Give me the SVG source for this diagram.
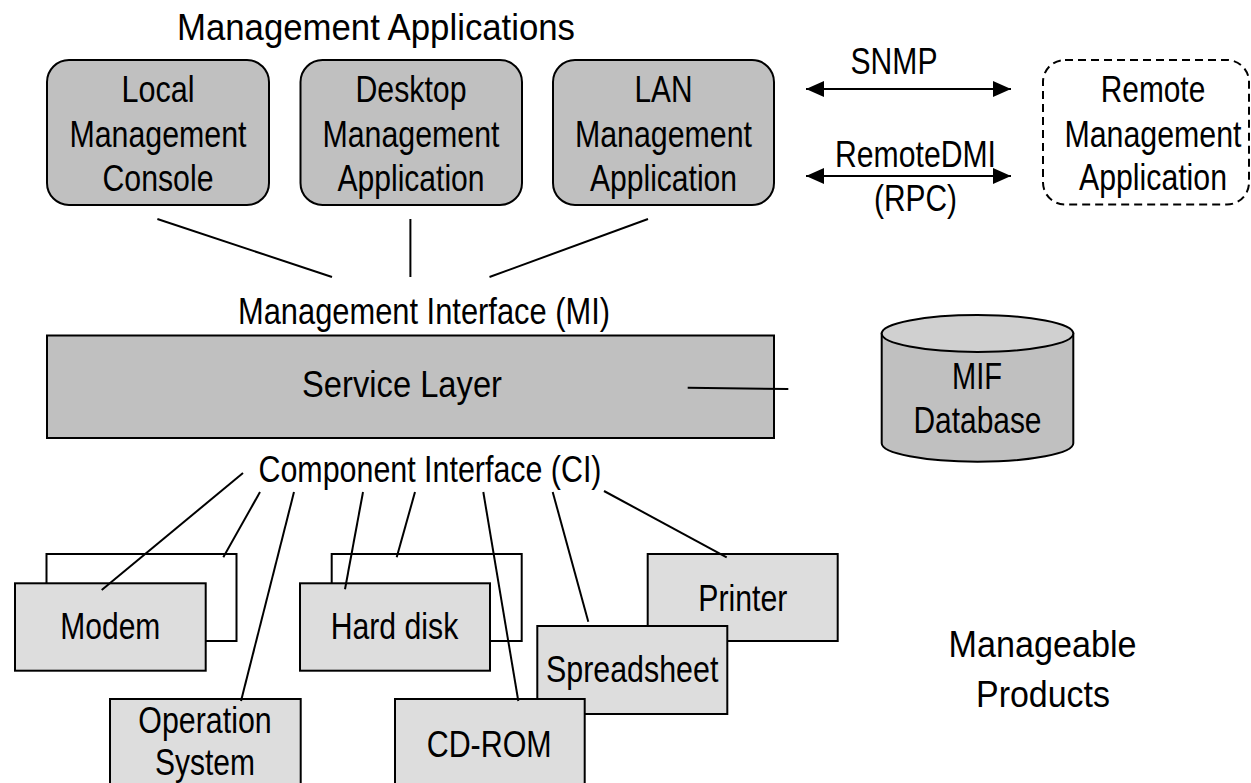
<svg xmlns="http://www.w3.org/2000/svg" width="1251" height="783" viewBox="0 0 1251 783">
<style>
text{font-family:"Liberation Sans",Arial,sans-serif;font-size:36px;fill:#000;text-anchor:middle}
.app{fill:#c0c0c0;stroke:#000;stroke-width:2}
.prod{fill:#dddddd;stroke:#000;stroke-width:2}
.back{fill:#fff;stroke:#000;stroke-width:2}
.ln{stroke:#000;stroke-width:2;fill:none}
</style>
<defs>
<marker id="ah" markerUnits="userSpaceOnUse" markerWidth="19" markerHeight="17" refX="18" refY="8" orient="auto-start-reverse">
<path d="M0,0 L18,8 L0,16 z" fill="#000"/>
</marker>
</defs>
<rect width="1251" height="783" fill="#fff"/>
<text x="376" y="40" textLength="398" lengthAdjust="spacingAndGlyphs">Management Applications</text>

<g id="local">
<rect class="app" x="47" y="60" width="222" height="145" rx="22"/>
<text x="158" y="101.5" textLength="73" lengthAdjust="spacingAndGlyphs">Local</text>
<text x="158" y="146.5" textLength="177" lengthAdjust="spacingAndGlyphs">Management</text>
<text x="158" y="190.5" textLength="111" lengthAdjust="spacingAndGlyphs">Console</text>
</g>
<g id="desktop">
<rect class="app" x="300.5" y="60" width="221.5" height="145" rx="22"/>
<text x="411" y="101.5" textLength="111" lengthAdjust="spacingAndGlyphs">Desktop</text>
<text x="411" y="146.5" textLength="177" lengthAdjust="spacingAndGlyphs">Management</text>
<text x="411" y="190.5" textLength="147" lengthAdjust="spacingAndGlyphs">Application</text>
</g>
<g id="lan">
<rect class="app" x="553" y="60" width="221" height="145" rx="22"/>
<text x="663.5" y="101.5" textLength="58" lengthAdjust="spacingAndGlyphs">LAN</text>
<text x="663.5" y="146.5" textLength="177" lengthAdjust="spacingAndGlyphs">Management</text>
<text x="663.5" y="190.5" textLength="147" lengthAdjust="spacingAndGlyphs">Application</text>
</g>
<g id="remote">
<rect x="1043" y="60" width="206" height="144.5" rx="22" fill="#fff" stroke="#000" stroke-width="2" stroke-dasharray="8,5"/>
<text x="1153" y="101.5" textLength="104.5" lengthAdjust="spacingAndGlyphs">Remote</text>
<text x="1153" y="146.5" textLength="177" lengthAdjust="spacingAndGlyphs">Management</text>
<text x="1153" y="189.5" textLength="148" lengthAdjust="spacingAndGlyphs">Application</text>
</g>

<text x="894" y="74" textLength="87" lengthAdjust="spacingAndGlyphs">SNMP</text>
<text x="915.5" y="166.5" textLength="161" lengthAdjust="spacingAndGlyphs">RemoteDMI</text>
<text x="915.5" y="211" textLength="83" lengthAdjust="spacingAndGlyphs">(RPC)</text>

<text x="424" y="324" font-size="37" textLength="372" lengthAdjust="spacingAndGlyphs">Management Interface (MI)</text>

<g id="service">
<rect class="app" x="47" y="335.5" width="727" height="102.5"/>
<text x="402" y="397" textLength="200" lengthAdjust="spacingAndGlyphs">Service Layer</text>
</g>

<g id="mif">
<path d="M881.7,333.5 L881.7,443.3 A95.8,18.4 0 0 0 1073.3,443.3 L1073.3,333.5 Z" fill="#c0c0c0" stroke="#000" stroke-width="2"/>
<ellipse cx="977.5" cy="333.5" rx="95.8" ry="18.5" fill="#d0d0d0" stroke="#000" stroke-width="2"/>
<text x="977" y="388.5" textLength="50" lengthAdjust="spacingAndGlyphs">MIF</text>
<text x="977.5" y="432.5" textLength="128" lengthAdjust="spacingAndGlyphs">Database</text>
</g>

<text x="430" y="482" font-size="37" textLength="343" lengthAdjust="spacingAndGlyphs">Component Interface (CI)</text>

<g id="modem">
<rect class="back" x="46.5" y="554" width="190" height="87"/>
<rect class="prod" x="15" y="583.3" width="190.7" height="87.4"/>
<text x="110.3" y="639" textLength="100" lengthAdjust="spacingAndGlyphs">Modem</text>
</g>
<g id="harddisk">
<rect class="back" x="331.7" y="554" width="190" height="87"/>
<rect class="prod" x="300" y="583.3" width="190" height="87.4"/>
<text x="394.5" y="639" textLength="127.6" lengthAdjust="spacingAndGlyphs">Hard disk</text>
</g>
<g id="printer">
<rect class="prod" x="647.7" y="554" width="190" height="87"/>
<text x="742.8" y="610.7" textLength="89" lengthAdjust="spacingAndGlyphs">Printer</text>
</g>
<g id="spreadsheet">
<rect class="prod" x="537.3" y="626" width="190" height="88"/>
<text x="632.2" y="682.3" textLength="172.3" lengthAdjust="spacingAndGlyphs">Spreadsheet</text>
</g>
<g id="os">
<rect class="prod" x="110" y="699" width="190.7" height="100"/>
<text x="205" y="733.3" textLength="133.3" lengthAdjust="spacingAndGlyphs">Operation</text>
<text x="205" y="775" textLength="100" lengthAdjust="spacingAndGlyphs">System</text>
</g>
<g id="cdrom">
<rect class="prod" x="395" y="699" width="189.7" height="100"/>
<text x="489.2" y="756.7" textLength="125" lengthAdjust="spacingAndGlyphs">CD-ROM</text>
</g>

<text x="1042.5" y="657" font-size="42" textLength="188" lengthAdjust="spacingAndGlyphs">Manageable</text>
<text x="1043" y="707" font-size="42" textLength="134" lengthAdjust="spacingAndGlyphs">Products</text>

<g id="connectors">
<line class="ln" x1="157.4" y1="219" x2="332" y2="277"/>
<line class="ln" x1="410.4" y1="219" x2="410.4" y2="277"/>
<line class="ln" x1="648" y1="219" x2="489.5" y2="277"/>
<line class="ln" x1="806" y1="89" x2="1011" y2="89" marker-start="url(#ah)" marker-end="url(#ah)"/>
<line class="ln" x1="806" y1="176" x2="1011" y2="176" marker-start="url(#ah)" marker-end="url(#ah)"/>
<line class="ln" x1="687.7" y1="387.7" x2="788.3" y2="389"/>
<line class="ln" x1="101.7" y1="590" x2="243" y2="473"/>
<line class="ln" x1="223.3" y1="557.3" x2="260" y2="492"/>
<line class="ln" x1="241" y1="701" x2="294" y2="492"/>
<line class="ln" x1="345" y1="589.3" x2="363" y2="492"/>
<line class="ln" x1="396.7" y1="557.3" x2="415" y2="492"/>
<line class="ln" x1="518.3" y1="701" x2="483.3" y2="492"/>
<line class="ln" x1="588.3" y1="621.7" x2="552.7" y2="492"/>
<line class="ln" x1="726.7" y1="557.3" x2="604" y2="491"/>
</g>
</svg>
